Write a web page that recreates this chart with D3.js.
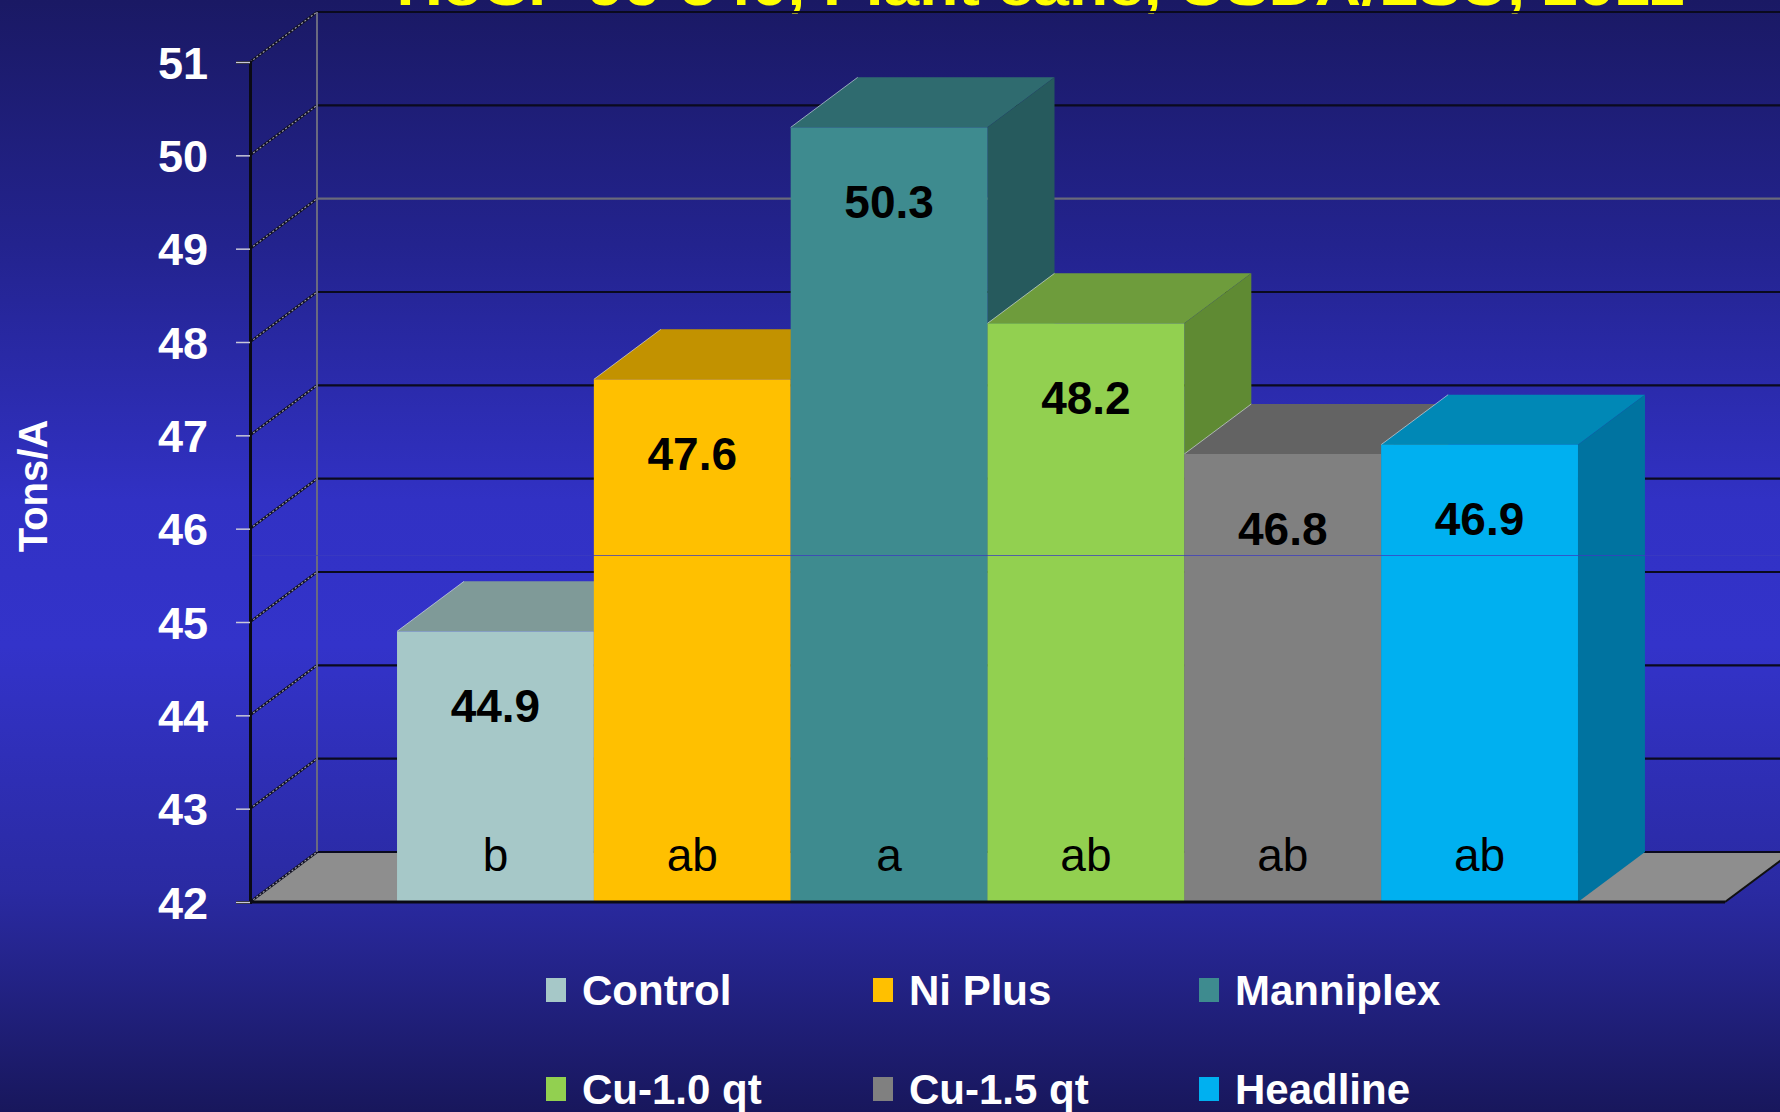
<!DOCTYPE html>
<html>
<head>
<meta charset="utf-8">
<script src="https://cdn.jsdelivr.net/npm/d3@7/dist/d3.min.js"></script>
<style>
  html, body { margin: 0; padding: 0; background: #1a1966; }
  svg { display: block; }
  text { font-family: "Liberation Sans", Arial, Helvetica, sans-serif; }
</style>
</head>
<body>
<svg id="chart" width="1780" height="1112"></svg>
<script>
// Cane yield by foliar treatment (tons per acre)
const title = "HoCP 96-540, Plant cane, USDA/LSU, 2012";
const yAxisTitle = "Tons/A";
const categories = ["2012"];
const treatments = ["Control", "Ni Plus", "Manniplex", "Cu-1.0 qt", "Cu-1.5 qt", "Headline"];
const yields = [44.9, 47.6, 50.3, 48.2, 46.8, 46.9];
const letters = ["b", "ab", "a", "ab", "ab", "ab"];
const yTicks = [42, 43, 44, 45, 46, 47, 48, 49, 50, 51];

// Face shades per treatment: front, top, side
const frontColors = ["#A6C8C8", "#FFC000", "#3E8B8F", "#92D050", "#808080", "#00B0F0"];
const topColors   = ["#7F9A98", "#C29200", "#2F6B6F", "#6E9C3C", "#636363", "#0088B6"];
const sideColors  = ["#6E8786", "#A07800", "#265A5D", "#5F8A33", "#555555", "#0073A0"];

const svg = d3.select("#chart");
const W = 1780, H = 1112;

// background gradient
const defs = svg.append("defs");
const grad = defs.append("linearGradient").attr("id", "bg")
  .attr("x1", 0).attr("y1", 0).attr("x2", 0).attr("y2", 1);
[[0, "#1A1964"], [0.22, "#23238E"], [0.45, "#3131C4"], [0.58, "#3333CA"],
 [0.8, "#2A2AA2"], [1, "#18175C"]].forEach(([o, c]) =>
  grad.append("stop").attr("offset", o).attr("stop-color", c));
svg.append("rect").attr("width", W).attr("height", H).attr("fill", "url(#bg)");

// geometry
const plotLeft = 250, plotRight = 1725, plotTop = 62, plotBottom = 902;
const depthX = 67, depthY = -50;

const y = d3.scaleLinear().domain([42, 51]).range([plotBottom, plotTop]);
const x0 = d3.scaleBand().domain(categories).range([plotLeft, plotRight])
  .paddingInner(0).paddingOuter(0.1245);
const x1 = d3.scaleBand().domain(treatments).range([0, x0.bandwidth()]).padding(0);

// title (runs off the top edge)
svg.append("text")
  .attr("x", 1041).attr("y", 5)
  .attr("text-anchor", "middle")
  .attr("font-size", 54).attr("font-weight", "bold")
  .attr("fill", "#FFFF00")
  .attr("textLength", 1289).attr("lengthAdjust", "spacingAndGlyphs")
  .text(title);

// floor
const floor = [[plotLeft, plotBottom], [plotLeft + depthX, plotBottom + depthY],
               [plotRight + depthX, plotBottom + depthY], [plotRight, plotBottom]];
svg.append("path")
  .attr("d", d3.line()(floor) + "Z")
  .attr("fill", "#8E8E8E").attr("stroke", "none");
svg.append("line")
  .attr("x1", plotRight).attr("y1", plotBottom)
  .attr("x2", plotRight + depthX).attr("y2", plotBottom + depthY)
  .attr("stroke", "#111").attr("stroke-width", 2);

// back wall gridlines
const grid = svg.append("g");
grid.selectAll("line.back").data(yTicks).join("line")
  .attr("class", "back")
  .attr("x1", plotLeft + depthX).attr("x2", W + 20)
  .attr("y1", d => y(d) + depthY).attr("y2", d => y(d) + depthY)
  .attr("stroke", d => d === 49 ? "#6a6a7a" : "#0a0a1e")
  .attr("stroke-width", 2.2);
// back wall left edge
svg.append("line")
  .attr("x1", plotLeft + depthX).attr("x2", plotLeft + depthX)
  .attr("y1", y(51) + depthY).attr("y2", plotBottom + depthY)
  .attr("stroke", "#6a6a80").attr("stroke-width", 2);
// side wall diagonals
grid.selectAll("line.diagDark").data(yTicks).join("line")
  .attr("class", "diagDark")
  .attr("x1", plotLeft).attr("y1", d => y(d))
  .attr("x2", plotLeft + depthX).attr("y2", d => y(d) + depthY)
  .attr("stroke", "#101020").attr("stroke-width", 2.4);
grid.selectAll("line.diagLight").data(yTicks).join("line")
  .attr("class", "diagLight")
  .attr("x1", plotLeft).attr("y1", d => y(d))
  .attr("x2", plotLeft + depthX).attr("y2", d => y(d) + depthY)
  .attr("stroke", "#9a9aa8").attr("stroke-width", 1.2)
  .attr("stroke-dasharray", "2,2");

// bars drawn left to right so each front face covers its neighbour's side
const bars = svg.append("g");
treatments.forEach((t, i) => {
  const xl = x0(categories[0]) + x1(t);
  const xr = xl + x1.bandwidth();
  const yt = y(yields[i]);
  const g = bars.append("g");
  // top face
  g.append("path")
    .attr("d", d3.line()([[xl, yt], [xl + depthX, yt + depthY], [xr + depthX, yt + depthY], [xr, yt]]) + "Z")
    .attr("fill", topColors[i]);
  // left edge highlight of the top face
  g.append("line")
    .attr("x1", xl).attr("y1", yt).attr("x2", xl + depthX).attr("y2", yt + depthY)
    .attr("stroke", "#dfe4f0").attr("stroke-width", 1).attr("opacity", 0.6);
  // side face
  g.append("path")
    .attr("d", d3.line()([[xr, yt], [xr + depthX, yt + depthY], [xr + depthX, plotBottom + depthY], [xr, plotBottom]]) + "Z")
    .attr("fill", sideColors[i]);
  // front face
  g.append("rect")
    .attr("x", xl).attr("y", yt)
    .attr("width", xr - xl).attr("height", plotBottom - yt)
    .attr("fill", frontColors[i]);
});

// floor front edge
svg.append("line")
  .attr("x1", plotLeft).attr("x2", plotRight).attr("y1", plotBottom).attr("y2", plotBottom)
  .attr("stroke", "#0a0a14").attr("stroke-width", 3);

// thin seam crossing the plot
svg.append("line")
  .attr("x1", plotLeft).attr("x2", W).attr("y1", 555.5).attr("y2", 555.5)
  .attr("stroke", "#3c3cc0").attr("stroke-width", 1.2).attr("opacity", 0.75);

// value labels
svg.append("g").selectAll("text").data(treatments).join("text")
  .attr("x", t => x0(categories[0]) + x1(t) + x1.bandwidth() / 2)
  .attr("y", (t, i) => y(yields[i] - 0.8))
  .attr("text-anchor", "middle").attr("dominant-baseline", "central")
  .attr("font-size", 46).attr("font-weight", "bold").attr("fill", "#000")
  .text((t, i) => yields[i].toFixed(1));

// significance letters
svg.append("g").selectAll("text").data(treatments).join("text")
  .attr("x", t => x0(categories[0]) + x1(t) + x1.bandwidth() / 2)
  .attr("y", y(42.5))
  .attr("text-anchor", "middle").attr("dominant-baseline", "central")
  .attr("font-size", 46).attr("fill", "#000")
  .text((t, i) => letters[i]);

// y axis
const axis = svg.append("g").attr("transform", `translate(${plotLeft},0)`)
  .call(d3.axisLeft(y).tickValues(yTicks).tickSize(14).tickPadding(28).tickFormat(d3.format("d")));
axis.select(".domain").attr("stroke", "#0a0a14").attr("stroke-width", 3);
axis.selectAll(".tick line").attr("stroke", "#c8c8d8").attr("stroke-width", 1.5);
axis.selectAll(".tick text")
  .attr("fill", "#fff").attr("font-size", 45).attr("font-weight", "bold")
  .attr("font-family", "'Liberation Sans', Arial, sans-serif")
  .attr("dy", "0.36em");

// y axis title
svg.append("text")
  .attr("transform", "translate(33,486) rotate(-90)")
  .attr("text-anchor", "middle").attr("dominant-baseline", "central")
  .attr("font-size", 40).attr("font-weight", "bold").attr("fill", "#fff")
  .text(yAxisTitle);

// legend: three columns, two rows
const legendCols = [546, 873, 1199];
const legendRows = [990, 1089];
const legend = svg.append("g").selectAll("g").data(treatments).join("g")
  .attr("transform", (t, i) => `translate(${legendCols[i % 3]},${legendRows[Math.floor(i / 3)]})`);
legend.append("rect")
  .attr("x", 0).attr("y", -12).attr("width", 20).attr("height", 24)
  .attr("fill", (t, i) => frontColors[i]);
legend.append("text")
  .attr("x", 36).attr("y", 0)
  .attr("dominant-baseline", "central")
  .attr("font-size", 42).attr("font-weight", "bold").attr("fill", "#fff")
  .text(t => t);
</script>
</body>
</html>
